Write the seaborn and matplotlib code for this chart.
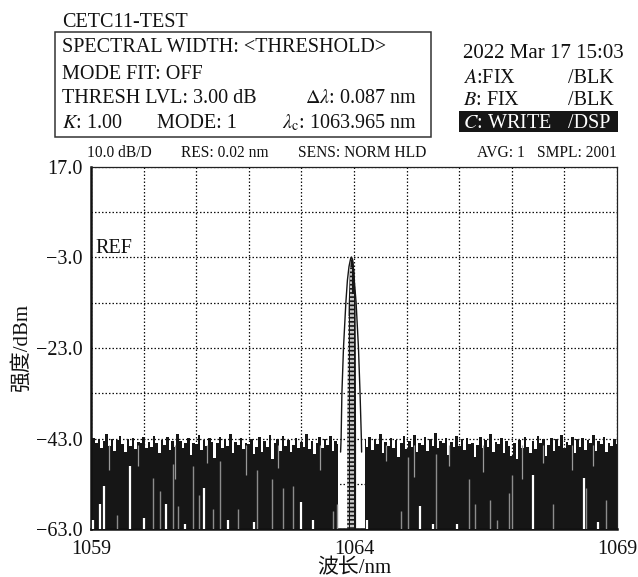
import numpy as np
import matplotlib
matplotlib.use("Agg")
import matplotlib.pyplot as plt
import seaborn as sns
import pandas as pd
from matplotlib.patches import Rectangle

# ---------------- data ----------------
wl_start, wl_step, n_pts = 1059.0, 0.05, 201
nan = np.nan
noise_top = [
    -44.5, -42.8, -44.0, -43.2, -45.1, -43.6, -42.1, -44.7, -43.0, -45.8,
    -43.4, -42.5, -44.2, -46.0, -43.1, -44.6, -42.9, -45.3, -43.8, -44.1,
    -42.6, -45.0, -43.7, -44.9, -42.4, -43.9, -46.3, -43.3, -44.4, -42.7,
    -45.6, -43.5, -44.8, -41.9, -43.6, -45.2, -44.0, -42.8, -46.7, -43.9,
    -44.3, -42.2, -45.5, -43.4, -44.6, -42.9, -43.8, -47.2, -44.1, -42.6,
    -45.0, -43.2, -44.7, -42.0, -46.1, -43.7, -44.5, -42.8, -45.4, -43.9,
    -44.2, -43.0, -46.5, -44.8, -42.7, -45.9, -43.6, -44.9, -42.3, -47.5,
    -44.0, -43.1, -45.7, -42.5, -44.6, -43.3, -46.0, -44.4, -42.9, -45.1,
    -43.7, -44.8, -42.1, -45.3, -43.5, -46.4, -44.0, -42.7, -45.0, -43.2,
    -44.5, -42.4, -45.8, -43.6, -44.3,
    nan, nan, nan, nan, nan, nan, nan, nan, nan,
    -43.4, -44.9, -42.6, -45.5, -43.1, -44.2, -42.0, -46.2, -43.8, -44.7,
    -42.8, -45.1, -43.3, -47.0, -44.0, -42.5,
    -45.3, -43.6, -44.8, -42.2, -46.0, -43.9, -44.4, -42.7, -45.7, -43.0,
    -44.6, -41.8, -45.2, -43.5, -44.1, -42.9, -46.6, -43.7, -44.9, -42.4,
    -44.7, -43.2, -45.6, -42.8, -44.3, -43.9, -47.1, -44.5, -42.6, -45.0,
    -43.4, -44.8, -42.1, -45.9, -43.7, -44.2, -42.9, -46.3, -43.5, -44.6,
    -46.8, -44.0, -47.5, -43.3, -45.2, -42.7, -44.9, -46.1, -43.6, -45.4,
    -42.5, -44.1, -43.0, -46.9, -44.4, -42.8, -45.8, -43.2, -44.7, -42.3,
    -45.0, -43.8, -44.5, -42.6, -46.2, -43.1, -44.8, -42.9, -45.5, -43.4,
    -44.0, -42.2, -45.7, -43.6, -44.3, -42.7, -46.0, -43.9, -44.6, -43.0,
    -44.2,
]
noise_floor = -63.0

# local minima that rise above the screen floor (white gaps)
white_x = [1059.04, 1059.17, 1059.25, 1059.74, 1060.00, 1060.43, 1060.79, 1061.15,
           1061.60, 1062.10, 1063.00, 1063.22, 1064.25, 1065.25, 1065.50, 1065.95,
           1067.40, 1068.37, 1068.64]
white_top = [-61, -57.5, -53.6, -49, -60.6, -57.5, -62, -54, -61, -61.5, -57, -61,
             -61, -58, -62, -62, -51, -51.7, -61.5]
# partially covered gaps (grey)
gray_x = [1059.50, 1060.18, 1060.31, 1060.55, 1060.66, 1060.94, 1061.06, 1061.32,
          1061.45, 1061.80, 1062.15, 1062.45, 1062.65, 1062.84, 1063.60, 1063.67,
          1064.90, 1065.03, 1065.56, 1066.19, 1066.30, 1066.59, 1066.71, 1066.95,
          1067.00, 1067.79, 1068.42, 1068.79]
gray_top = [-60, -51.7, -54.6, -48.6, -58, -49, -55.5, -58.5, -48, -58.5, -50, -52,
            -54, -53.5, -59, -57.5, -59, -47, -46.5, -52, -57.5, -56.5, -61, -55,
            -51, -57.5, -54, -56.5]
sliver_x = [1059.35, 1059.90, 1060.60, 1061.20, 1061.95, 1062.55, 1063.35, 1064.60,
            1065.15, 1065.80, 1066.45, 1067.20, 1067.60, 1068.15, 1068.55]
sliver_lo = [-50, -49, -52, -48.5, -51, -49.5, -50, -48, -51.5, -49, -50.5, -52,
             -48.5, -50, -49]

# laser line (outline of the trace)
peak_x = [1063.745, 1063.755, 1063.77, 1063.80, 1063.845, 1063.875, 1063.905,
          1063.935, 1063.952, 1063.968, 1063.985, 1064.005, 1064.04, 1064.085,
          1064.115, 1064.14, 1064.145]
peak_y = [-46, -43, -33, -23, -13, -8, -5, -3.3, -2.9, -3.3, -5, -8, -13, -23,
          -33, -43, -46]
# overlaid traces inside the line
core_lvl = [-63, -43, -23, -13, -6, -3.3]
core_left = [1063.86, 1063.86, 1063.875, 1063.89, 1063.91, 1063.935]
core_right = [1064.03, 1064.03, 1064.025, 1064.02, 1064.0, 1063.975]
dash_x = [1063.895, 1063.945, 1063.99]
dash_top = [-16, -5, -11]

y_ticks = [17, 7, -3, -13, -23, -33, -43, -53, -63]
y_labels = ["17.0", "", "−3.0", "", "−23.0", "", "−43.0", "", "−63.0"]
x_ticks = list(range(1059, 1070))
x_labels = ["1059", "", "", "", "", "1064", "", "", "", "", "1069"]

# ---------------- style ----------------
sns.set_theme(style="white")
plt.rcParams["font.family"] = ["Liberation Serif", "Noto Sans CJK SC"]
plt.rcParams["mathtext.fontset"] = "stix"

W, H = 638, 577
fig = plt.figure(figsize=(W / 100, H / 100), dpi=100)
ax = fig.add_axes([91 / W, 1 - 529 / H, 526 / W, 362 / H])

wl = np.round(wl_start + wl_step * np.arange(n_pts), 3)
df = pd.DataFrame({"wl": wl, "top": noise_top})

ink = "#161616"
ax.fill_between(df["wl"], noise_floor - 5, df["top"], step="mid", color=ink,
                lw=0, zorder=2)
ax.vlines(white_x, noise_floor - 5, white_top, color="white", lw=1.6, zorder=3)
ax.vlines(gray_x, noise_floor - 5, gray_top, color="#8c8c8c", lw=1.0, zorder=3)
ax.vlines(sliver_x, sliver_lo, -44.5, color="#9a9a9a", lw=0.9, zorder=3)

# peak
ax.fill_betweenx(core_lvl, core_left, core_right, color=ink, lw=0, zorder=3)
for xx, tt in zip(dash_x, dash_top):
    ax.plot([xx, xx], [noise_floor - 5, tt], color="white", lw=1.1,
            ls=(0, (1.6, 1.1)), zorder=4)
pk = pd.DataFrame({"wl": peak_x, "p": peak_y})
sns.lineplot(data=pk, x="wl", y="p", sort=False, color=ink, lw=1.0, ax=ax,
             zorder=4, estimator=None)

ax.set_xlim(1059, 1069)
ax.set_ylim(-63, 17)
ax.set_yticks(y_ticks)
ax.set_yticklabels(y_labels, fontsize=14.5)
ax.set_xticks(x_ticks)
ax.set_xticklabels(x_labels, fontsize=14.5)
ax.tick_params(length=0, pad=6, colors="#111111")
ax.tick_params(axis="x", pad=8)
ax.grid(True, color="#111111", lw=0.9, ls=(0, (1.2, 1.6)), zorder=0)
ax.set_axisbelow(True)
for s in ["left", "bottom"]:
    ax.spines[s].set_linewidth(1.8)
    ax.spines[s].set_color("#111111")
for s in ["top", "right"]:
    ax.spines[s].set_linewidth(0.9)
    ax.spines[s].set_color("#222222")
ax.set_xlabel("波长/nm", fontsize=15, labelpad=0, color="#111111")
ax.set_ylabel("强度/dBm", fontsize=15, labelpad=3, color="#111111")
ax.text(1059.08, -1.0, "REF", fontsize=14.5, va="center", ha="left",
        color="#111111")

# ---------------- header ----------------
def T(x, y, s, **kw):
    kw.setdefault("fontsize", 14.5)
    kw.setdefault("color", "#111111")
    kw.setdefault("va", "baseline")
    fig.text(x / W, 1 - y / H, s, **kw)

T(61.7, 27.3, "CETC11-TEST")
fig.patches.append(Rectangle((55 / W, 1 - 136.7 / H), (431 - 55) / W,
                             (136.7 - 32.3) / H, transform=fig.transFigure,
                             fill=False, ec="#333333", lw=1.1))
T(61.7, 52.3, "SPECTRAL WIDTH: <THRESHOLD>")
T(61.7, 79.0, "MODE FIT: OFF")
T(61.7, 102.7, "THRESH LVL: 3.00 dB")
T(417, 102.7, r"$\Delta\lambda$: 0.087 nm", ha="right")
T(61.7, 128.3, r"$K$: 1.00")
T(156.7, 128.3, "MODE: 1")
T(417, 128.3, r"$\lambda_{\mathrm{c}}$: 1063.965 nm", ha="right")

T(462.7, 58.3, "2022 Mar 17 15:03", fontsize=15)
T(462.7, 83.3, r"$A$:FIX")
T(568, 83.3, "/BLK")
T(462.7, 105.0, r"$B$: FIX")
T(568, 105.0, "/BLK")
fig.patches.append(Rectangle((459.3 / W, 1 - 132.3 / H), (618.3 - 459.3) / W,
                             (132.3 - 111) / H, transform=fig.transFigure,
                             fc="#161616", ec="none"))
T(462.7, 128.3, r"$C$: WRITE", color="white")
T(568, 128.3, "/DSP", color="white")

info = [(87.3, "10.0 dB/D"), (180.7, "RES: 0.02 nm"), (298, "SENS: NORM HLD"),
        (476.7, "AVG: 1"), (537.3, "SMPL: 2001")]
for xx, s in info:
    T(xx, 156.7, s, fontsize=11.2)

fig.savefig("out.png", dpi=100)
